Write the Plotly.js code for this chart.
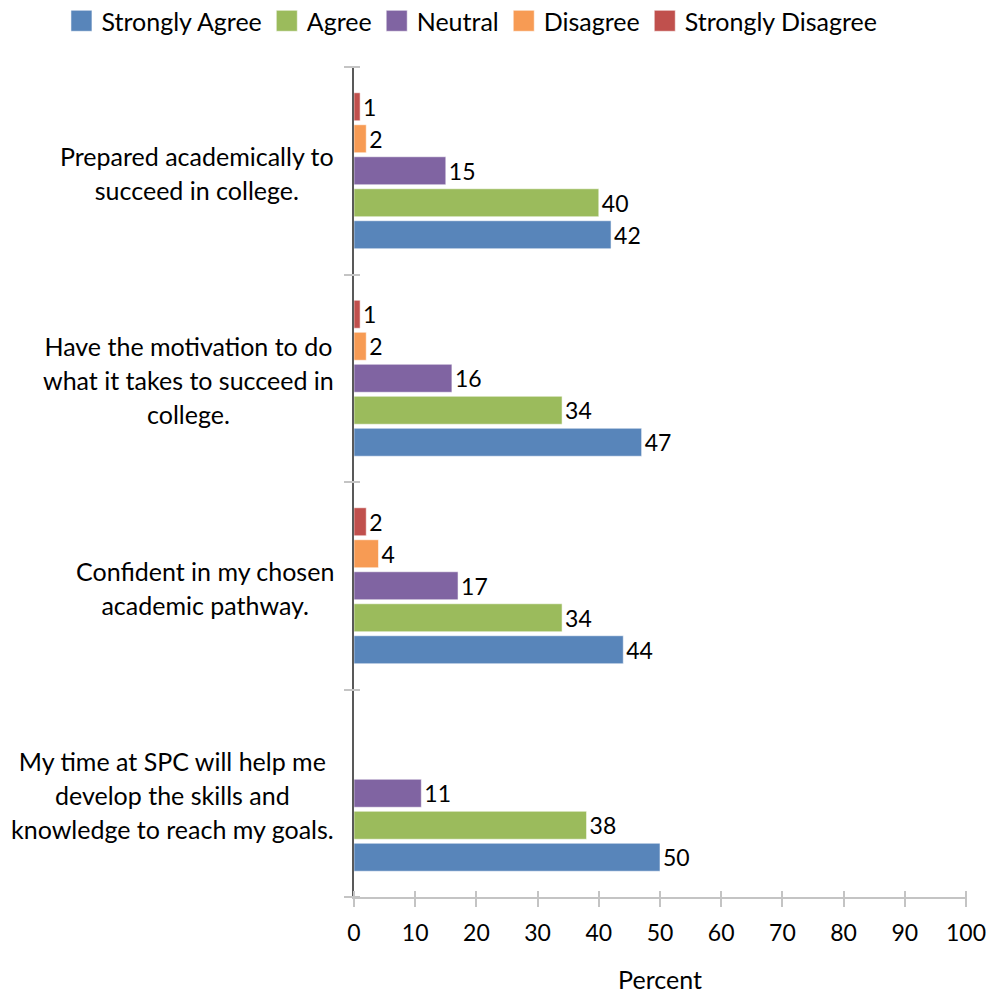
<!DOCTYPE html>
<html>
<head>
<meta charset="utf-8">
<script src="https://cdn.plot.ly/plotly-3.0.1.min.js"></script>
<style>
  html, body { margin: 0; padding: 0; background: #ffffff; }
  #chart { width: 996px; height: 994px; }
</style>
</head>
<body>
<div id="chart"></div>
<script>
// Survey statements, listed top to bottom as they appear in the chart
const statements = [
  "Prepared academically to<br>succeed in college.",
  "Have the motivation to do<br>what it takes to succeed in<br>college.",
  "Confident in my chosen<br>academic pathway.",
  "My time at SPC will help me<br>develop the skills and<br>knowledge to reach my goals."
];

// Response series (percent), same order as the statements
const seriesNames = ["Strongly Agree", "Agree", "Neutral", "Disagree", "Strongly Disagree"];
const stronglyAgree    = [42, 47, 44, 50];
const agree            = [40, 34, 34, 38];
const neutral          = [15, 16, 17, 11];
const disagree         = [2, 2, 4, null];
const stronglyDisagree = [1, 1, 2, null];

const percentTicks = [0, 10, 20, 30, 40, 50, 60, 70, 80, 90, 100];

const seriesColors = ["#5885BA", "#9BBB5C", "#8064A2", "#F79B54", "#C0504D"];
const FONT = "Lato, 'Liberation Sans', Arial, sans-serif";
const TEXT_SIZE = 25;
const NUM_SIZE = 23;
const TICK_HALF = 8;   // tick marks cross the axis line by this much on each side

const seriesValues = [stronglyAgree, agree, neutral, disagree, stronglyDisagree];

const traces = seriesValues.map((vals, i) => ({
  type: "bar",
  orientation: "h",
  name: seriesNames[i],
  y: statements,
  x: vals,
  marker: {
    color: seriesColors[i],
    line: { color: "rgba(255,255,255,0.55)", width: 1 }
  },
  text: vals.map(v => (v === null ? "" : String(v))),
  textposition: "outside",
  textfont: { family: FONT, size: NUM_SIZE, color: "#000000" },
  cliponaxis: false,
  hoverinfo: "x+name"
}));

// Category labels: centred multi-line text to the left of the axis
// (outer font size sets the line spacing, inner span sets the glyph size)
const labelAnnotations = statements.map(s => ({
  xref: "paper",
  yref: "y",
  x: 0,
  y: s,
  xanchor: "right",
  yanchor: "middle",
  xshift: -18,
  yshift: -2,
  align: "center",
  showarrow: false,
  font: { family: FONT, size: 26, color: "#000000" },
  text: s.split("<br>").map(line => '<span style="font-size:' + TEXT_SIZE + 'px">' + line + '</span>').join("<br>")
}));

const categoryOrder = statements.slice().reverse();

const layout = {
  width: 996,
  height: 994,
  margin: { l: 354, r: 30, t: 67, b: 97, autoexpand: false },
  paper_bgcolor: "#ffffff",
  plot_bgcolor: "#ffffff",
  font: { family: FONT, size: TEXT_SIZE, color: "#000000" },
  barmode: "group",
  bargap: 0.229,
  bargroupgap: 0.125,
  showlegend: true,
  legend: {
    orientation: "h",
    xref: "paper",
    yref: "paper",
    x: -0.478,
    xanchor: "left",
    y: 1.0831,
    yanchor: "top",
    traceorder: "normal",
    font: { family: FONT, size: TEXT_SIZE, color: "#000000" },
    bgcolor: "rgba(0,0,0,0)"
  },
  xaxis: {
    range: [0, 100],
    tickvals: percentTicks,
    ticks: "outside",
    ticklen: 2 * TICK_HALF,
    tickwidth: 2,
    tickcolor: "#C4C4C4",
    ticklabelstandoff: -2,
    showline: true,
    linecolor: "#C4C4C4",
    linewidth: 2,
    showgrid: false,
    zeroline: false,
    tickfont: { family: FONT, size: NUM_SIZE, color: "#000000" },
    title: { text: "Percent", font: { family: FONT, size: TEXT_SIZE, color: "#000000" }, standoff: 36 },
    automargin: false,
    fixedrange: true
  },
  yaxis: {
    type: "category",
    categoryorder: "array",
    categoryarray: categoryOrder,
    range: [-0.5, 3.5],
    tickson: "boundaries",
    ticks: "outside",
    ticklen: 2 * TICK_HALF,
    tickwidth: 2,
    tickcolor: "#C4C4C4",
    showticklabels: false,
    showline: true,
    linecolor: "#595959",
    linewidth: 2,
    showgrid: false,
    zeroline: false,
    automargin: false,
    fixedrange: true
  },
  annotations: labelAnnotations
};

const gd = document.getElementById("chart");

function finishStyling() {
  // larger legend swatches
  gd.querySelectorAll(".legend .legendpoints path").forEach(p => {
    p.setAttribute("d", "M10.5,10.5H-10.5V-10.5H10.5Z");
  });
  // tick marks centred on the axis lines
  gd.querySelectorAll("path.xtick.ticks").forEach(p => {
    if (!p.dataset.crossed) {
      p.setAttribute("transform", (p.getAttribute("transform") || "") + " translate(0,-" + TICK_HALF + ")");
      p.dataset.crossed = "1";
    }
  });
  gd.querySelectorAll("path.ytick.ticks").forEach(p => {
    if (!p.dataset.crossed) {
      p.setAttribute("transform", (p.getAttribute("transform") || "") + " translate(" + TICK_HALF + ",0)");
      p.dataset.crossed = "1";
    }
  });
}

Plotly.newPlot(gd, traces, layout, { displayModeBar: false, staticPlot: true }).then(() => {
  finishStyling();
  gd.on("plotly_afterplot", finishStyling);
});
</script>
</body>
</html>
